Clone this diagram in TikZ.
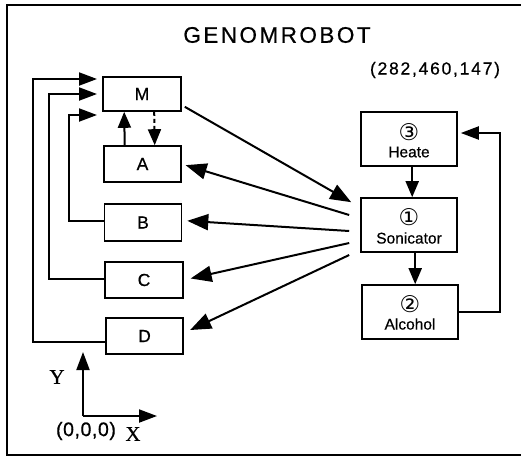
\documentclass[tikz,border=0pt]{standalone}
\usepackage{fontspec}
\setmainfont{Liberation Sans}[FakeBold=0.6]
\newfontfamily\serifXY{Liberation Serif}[FakeBold=0.4]
\newfontfamily\circfont{DejaVu Sans}
\usetikzlibrary{arrows.meta,calc}
\begin{document}
\begin{tikzpicture}[x=1pt,y=-1pt,
  lbox/.style={draw,line width=1.6pt,minimum width=77pt,minimum height=36pt,inner sep=0pt,font=\fontsize{17.5}{20}\selectfont},
  rbox/.style={draw,line width=1.6pt,minimum width=96pt,minimum height=54pt,inner sep=0pt},
  conn/.style={line width=2pt},
  bigtip/.style={-{Triangle[length=21pt,width=16pt]}},
  midtip/.style={-{Triangle[length=18pt,width=13pt]}},
  smalltip/.style={-{Triangle[length=16pt,width=13pt]}},
  circ/.style={font=\circfont\fontsize{23}{23}\selectfont,inner sep=0pt},
  sublbl/.style={font=\fontsize{15.5}{18}\selectfont,inner sep=0pt},
  axlbl/.style={font=\serifXY\fontsize{21}{22}\selectfont,inner sep=0pt},
]
\useasboundingbox (0,0) rectangle (521,456);
\draw[line width=1.8pt] (521,5) -- (7,5) -- (7,455) -- (521,455);

% title and coordinates
\node[inner sep=0pt] (title) at (277,35) {\fontsize{22.5}{24}\selectfont\addfontfeatures{LetterSpace=11}GENOMROBOT};
\node[inner sep=0pt] (pos) at (435,70) {\fontsize{17.5}{20}\selectfont\addfontfeatures{LetterSpace=10}(282,460,147)};

% left boxes
\node[lbox,minimum width=78pt,minimum height=34pt] (M) at (142,94) {M};
\node[lbox] (A) at (142.5,164) {A};
\node[lbox,minimum height=37pt] (B) at (143,222.5) {B};
\node[lbox,minimum width=78pt] (C) at (144,280) {C};
\node[lbox] (D) at (144.5,336) {D};

% right boxes
\node[rbox] (heate) at (409,139) {};
\node[circ] (n3) at (409,132) {③};
\node[sublbl] (heateT) at (409,152) {Heate};

\node[rbox] (son) at (409,225) {};
\node[circ] (n1) at (409,217) {①};
\node[sublbl] (sonT) at (409,238) {Sonicator};

\node[rbox] (alc) at (410,312) {};
\node[circ] (n2) at (410,304) {②};
\node[sublbl] (alcT) at (410,324) {Alcohol};

% M <-> A
\draw[conn,smalltip] ($(A.north west)+(21.5,0)$) -- ($(M.south west)+(22,0)$);
\draw[conn,smalltip,dash pattern=on 4pt off 3pt] ($(M.south west)+(52,0)$) -- ($(A.north west)+(51.5,0)$);

% M -> Sonicator
\coordinate (mS) at ($(M.south east)+(3,-5)$);
\coordinate (sTip) at ($(son.north west)+(-9,5)$);
\draw[conn,bigtip] (mS) -- (sTip);

% Sonicator -> A,B,C,D
\coordinate (sA) at ($(son.west)+(-11,-10)$);
\coordinate (sB) at ($(son.west)+(-11,6)$);
\coordinate (sC) at ($(son.west)+(-11,18)$);
\coordinate (sD) at ($(son.west)+(-11,30)$);
\draw[conn,bigtip,shorten >=4pt] (sA) -- (A.east);
\draw[conn,bigtip,shorten >=5pt] (sB) -- ($(B.east)+(0,-2)$);
\draw[conn,bigtip,shorten >=7pt] (sC) -- (C.east);
\draw[conn,bigtip,shorten >=7pt] (sD) -- ($(D.east)+(0,-3)$);

% feedback to M
\coordinate (tB) at (97,115);
\coordinate (tC) at (97,94);
\coordinate (tD) at (97,79);
\draw[conn,midtip] ($(B.west)+(0,-1.5)$) -- ++(-35,0) |- (tB);
\draw[conn,midtip] ($(C.west)+(0,-1)$) -- ++(-55,0) |- (tC);
\draw[conn,midtip] ($(D.west)+(0,6)$) -- ++(-72,0) |- (tD);

% right loop
\draw[conn,smalltip] ($(heate.south west)+(52,0)$) -- ($(son.north west)+(52,0)$);
\draw[conn,smalltip] ($(son.south west)+(55,0)$) -- ($(alc.north west)+(54,0)$);
\coordinate (tH) at ($(heate.east)+(3,-6)$);
\draw[conn,midtip] (alc.east) -- ++(41,0) |- (tH);

% axes
\coordinate (O) at (83,416);
\coordinate (Yend) at (83,352);
\coordinate (Xend) at (157,416);
\draw[conn,midtip] (O) -- (Yend);
\draw[conn,midtip] (O) -- (Xend);
\node[axlbl] (Ylbl) at (57,377) {Y};
\node[axlbl] (Xlbl) at (133,434) {X};
\node[inner sep=0pt] (orig) at (86,431) {\fontsize{19.5}{20}\selectfont\addfontfeatures{LetterSpace=3}(0,0,0)};
\end{tikzpicture}
\end{document}
